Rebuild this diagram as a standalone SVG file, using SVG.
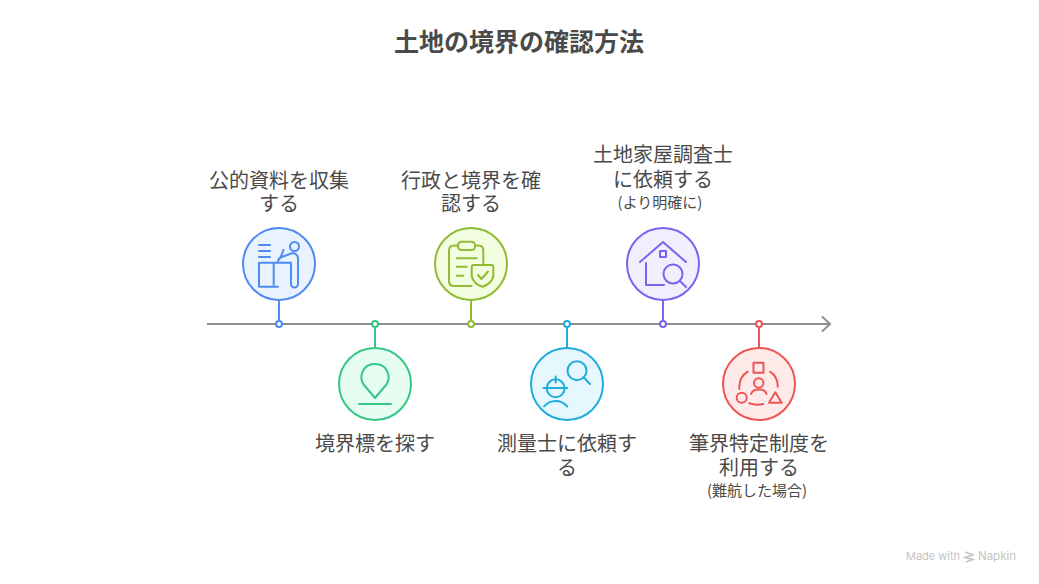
<svg xmlns="http://www.w3.org/2000/svg" width="1039" height="584" viewBox="0 0 1039 584">
<style>
text{font-family:"Noto Sans CJK JP","Liberation Sans",sans-serif;fill:#4a4a4a;text-anchor:middle}
.t{font-size:20px}
.s{font-size:15px}
.i{fill:none;stroke-width:2;stroke-linecap:round;stroke-linejoin:round}
.c{stroke-width:2}
.d{fill:#fff;stroke-width:2}
.l{stroke-width:2;fill:none}
.w{font-family:"Inter","Liberation Sans",sans-serif;font-size:11px;fill:#c4c4c4;text-anchor:start}
</style>
<rect width="1039" height="584" fill="#fff"/>
<text x="519" y="51" font-size="25" font-weight="700">土地の境界の確認方法</text>
<g id="connectors" fill="none">
<path d="M207 324H830" stroke="#8e8e8e" stroke-width="2"/>
<path d="M822 316.500L830 324L822 331.500" stroke="#8e8e8e" stroke-width="2"/>
<path class="l" d="M279 300V320" stroke="#4f8bf0"/>
<path class="l" d="M375 328V348" stroke="#35c785"/>
<path class="l" d="M471 300V320" stroke="#8fbb35"/>
<path class="l" d="M567 328V348" stroke="#1fadde"/>
<path class="l" d="M663 300V320" stroke="#7b63ee"/>
<path class="l" d="M759 328V348" stroke="#ee5555"/>
</g>
<g id="node1" stroke="#4f8bf0">
<circle class="c" cx="279" cy="264" r="36" fill="#e9f2ff"/>
<g class="i"><path d="M259 245H270M259 251H270M259 257H270"/><circle cx="294.500" cy="246.500" r="4.500"/><path d="M291 262.700H259V286.700H278M273.700 262.700V286.700M283.500 250L280.500 257.500M278 262.200C278 259.500 279 258.300 280.500 257.500L291 253.500C295 252.500 298 255 298 258.500V284A3.300 3.300 0 0 1 291 284V262.700"/></g>
<circle class="d" cx="279" cy="324" r="3"/>
<g stroke="none"><text class="t" x="279" y="187.500">公的資料を収集</text><text class="t" x="279" y="211">する</text></g>
</g>
<g id="node2" stroke="#35c785">
<circle class="c" cx="375" cy="384" r="36" fill="#e6fdf1"/>
<g class="i"><path d="M375 398L364 385C359 379 361 364 375 364C389 364 391 379 386 385Z"/><path d="M359 404H391"/></g>
<circle class="d" cx="375" cy="324" r="3"/>
<g stroke="none"><text class="t" x="375" y="451">境界標を探す</text></g>
</g>
<g id="node3" stroke="#8fbb35">
<circle class="c" cx="471" cy="264" r="36" fill="#f3fddf"/>
<g class="i"><rect x="458" y="241.700" width="17" height="8.300" rx="3.500"/><path d="M458 245.500H454Q449 245.500 449 250.500V281Q449 286 454 286H471.500M475 245.500H478.500Q483.300 245.500 483.300 250.500V263M456.700 258.300H476.700M456.700 266.700H466.700M456.700 275.700H463.300"/><path d="M474 265H491Q493.300 265 493.300 267.300V275C493.300 281 487 285.500 482.500 286.700C478 285.500 471.700 281 471.700 275V267.300Q471.700 265 474 265Z"/><path d="M478 275L481.500 279L488 271.500"/></g>
<circle class="d" cx="471" cy="324" r="3"/>
<g stroke="none"><text class="t" x="471" y="187.500">行政と境界を確</text><text class="t" x="471" y="211">認する</text></g>
</g>
<g id="node4" stroke="#1fadde">
<circle class="c" cx="567" cy="384" r="36" fill="#e7f7fe"/>
<g class="i"><circle cx="577" cy="370.700" r="9.500"/><path d="M583.500 377L590 384"/><circle cx="555.700" cy="388.300" r="9"/><path d="M543.500 388H567.300M555.700 376.500V382.500M544 406.500C550 399 561 399 567.300 406.500"/></g>
<circle class="d" cx="567" cy="324" r="3"/>
<g stroke="none"><text class="t" x="567" y="451">測量士に依頼す</text><text class="t" x="567" y="475">る</text></g>
</g>
<g id="node5" stroke="#7b63ee">
<circle class="c" cx="663" cy="264" r="36" fill="#f1effe"/>
<g class="i"><path d="M640 262L663 242L686 262"/><rect x="660" y="251" width="6" height="6"/><path d="M646 263V285H664"/><circle cx="673" cy="274" r="9.500"/><path d="M680 281L686 287"/></g>
<circle class="d" cx="663" cy="324" r="3"/>
<g stroke="none"><text class="t" x="663" y="162">土地家屋調査士</text><text class="t" x="663" y="186.500">に依頼する</text><text class="s" x="660" y="208">(より明確に)</text></g>
</g>
<g id="node6" stroke="#ee5555">
<circle class="c" cx="759" cy="384" r="36" fill="#ffeaea"/>
<g class="i"><rect x="753.500" y="362.700" width="10" height="10"/><circle cx="758.700" cy="383" r="4.700"/><path d="M751 394C753 388 765 388 766.500 394"/><circle cx="741.700" cy="397.700" r="5"/><path d="M775.300 392.300L781.700 402.700H769Z"/><path d="M739.300 389C739 381 742 375 747.700 371.700M770 371.700C775 375 778 380 777.700 386.700M749.300 403.300C754 405 759 405 763.300 404"/></g>
<circle class="d" cx="759" cy="324" r="3"/>
<g stroke="none"><text class="t" x="759" y="451">筆界特定制度を</text><text class="t" x="759" y="475">利用する</text><text class="s" x="757" y="496">(難航した場合)</text></g>
</g>
<text class="w" x="906" y="560">Made with</text>
<text class="w" x="978" y="560" style="font-size:11.500px">Napkin</text>
<path d="M965 552L973 555L965 557.500L973 559.500L966 562" fill="none" stroke="#c4c4c4" stroke-width="1.500"/>
</svg>
